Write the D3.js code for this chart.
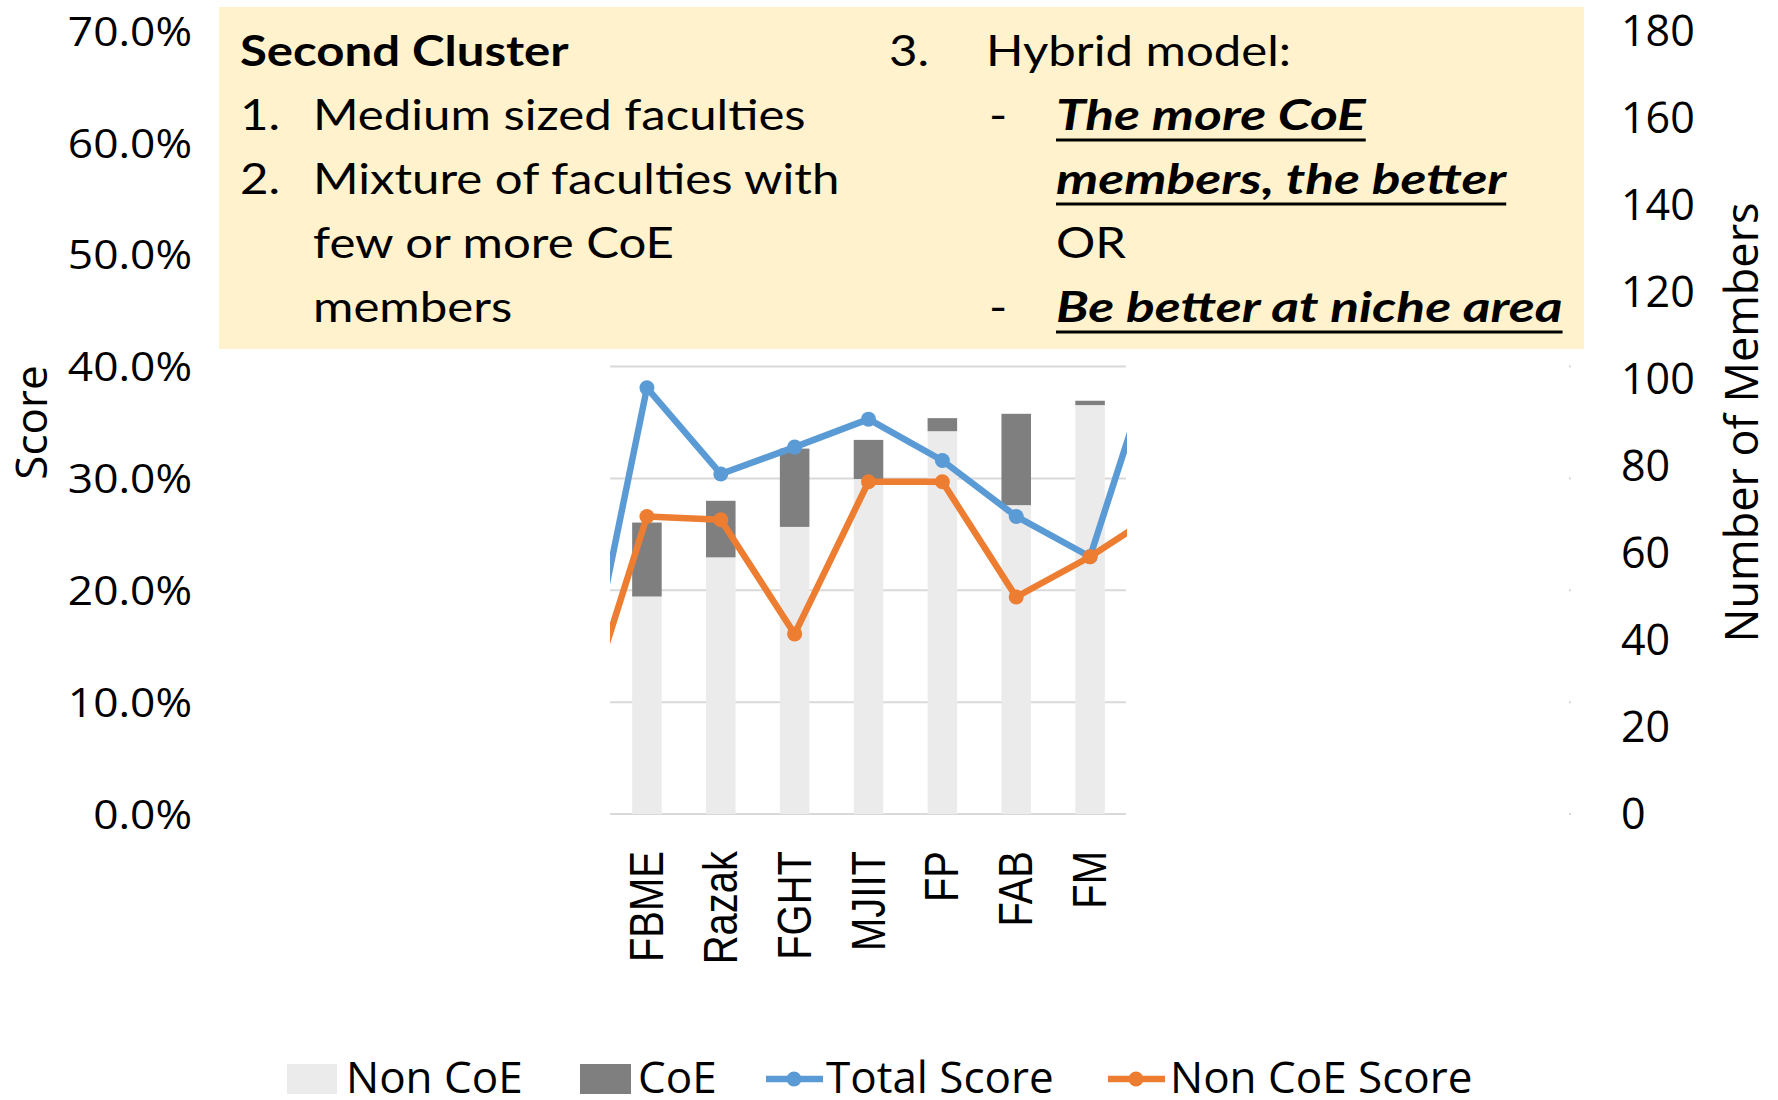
<!DOCTYPE html>
<html lang="en">
<head>
  <meta charset="utf-8">
  <script src="https://d3js.org/d3.v7.min.js"></script>
  <style>
    body { margin: 0; background: #fff; }
    svg { display: block; }
  </style>
</head>
<body>
<svg width="1778" height="1100"></svg>
<script>
  // faculties of the second cluster
  var categories = ["FBME", "Razak", "FGHT", "MJIIT", "FP", "FAB", "FM"];
  // members (right axis)
  var nonCoE = [50, 59, 66, 77, 88, 71, 94];
  var coE = [17, 13, 18, 9, 3, 21, 1];
  // scores (left axis)
  var totalScore = [0.381, 0.304, 0.328, 0.353, 0.316, 0.266, 0.230];
  var nonCoEScore = [0.266, 0.263, 0.161, 0.297, 0.297, 0.194, 0.230];
  // the faculties just outside this cut-out [before, after]; only their lines show
  var neighbourTotal = [0.058, 0.435];
  var neighbourNonCoE = [0.057, 0.273];
  var leftTicks = [0, 0.1, 0.2, 0.3, 0.4, 0.5, 0.6, 0.7];
  var rightTicks = [0, 20, 40, 60, 80, 100, 120, 140, 160, 180];

  var svg = d3.select("svg");
  var plotTop = 31, plotBottom = 814;
  var plotLeft = 205, plotRight = 1571;
  var winLeft = 610, winRight = 1127;

  var x = d3.scaleBand().domain(categories).range([winLeft, winRight])
    .paddingInner(0.6).paddingOuter(0.3);
  var yL = d3.scaleLinear().domain([0, 0.7]).range([plotBottom, plotTop]);
  var yR = d3.scaleLinear().domain([0, 180]).range([plotBottom, plotTop]);
  var step = x.step();
  function cx(i) { return x(categories[i]) + x.bandwidth() / 2; }

  // gridlines
  svg.append("g")
    .selectAll("line").data(leftTicks).enter().append("line")
    .attr("x1", plotLeft).attr("x2", plotRight)
    .attr("y1", function(d) { return yL(d); })
    .attr("y2", function(d) { return yL(d); })
    .attr("stroke", "#d9d9d9").attr("stroke-width", 2);

  // white panels hiding the rest of the original chart
  svg.append("rect").attr("x", plotLeft - 2).attr("y", plotTop - 5)
    .attr("width", winLeft - plotLeft + 2).attr("height", plotBottom - plotTop + 10).attr("fill", "#fff");
  svg.append("rect").attr("x", winRight - 1).attr("y", plotTop - 5)
    .attr("width", plotRight - 2 - winRight + 1).attr("height", plotBottom - plotTop + 10).attr("fill", "#fff");

  svg.append("clipPath").attr("id", "win")
    .append("rect").attr("x", winLeft).attr("y", 0)
    .attr("width", winRight - winLeft).attr("height", plotBottom + 2);

  var g = svg.append("g").attr("clip-path", "url(#win)");

  // stacked bars
  g.selectAll(".non").data(categories).enter().append("rect")
    .attr("x", function(d) { return x(d); })
    .attr("width", x.bandwidth())
    .attr("y", function(d, i) { return yR(nonCoE[i]); })
    .attr("height", function(d, i) { return yR(0) - yR(nonCoE[i]); })
    .attr("fill", "#ebebeb");
  g.selectAll(".coe").data(categories).enter().append("rect")
    .attr("x", function(d) { return x(d); })
    .attr("width", x.bandwidth())
    .attr("y", function(d, i) { return yR(nonCoE[i] + coE[i]); })
    .attr("height", function(d, i) { return yR(nonCoE[i]) - yR(nonCoE[i] + coE[i]); })
    .attr("fill", "#7f7f7f");

  function series(vals, nb) {
    var pts = [[cx(0) - step, nb[0]]];
    vals.forEach(function(v, i) { pts.push([cx(i), v]); });
    pts.push([cx(vals.length - 1) + step, nb[1]]);
    return pts;
  }
  var line = d3.line().x(function(d) { return d[0]; }).y(function(d) { return yL(d[1]); });

  [[totalScore, neighbourTotal, "#5b9bd5"], [nonCoEScore, neighbourNonCoE, "#ed7d31"]].forEach(function(s) {
    var pts = series(s[0], s[1]);
    g.append("path").datum(pts).attr("d", line)
      .attr("fill", "none").attr("stroke", s[2]).attr("stroke-width", 6.5)
      .attr("stroke-linejoin", "round");
    g.selectAll(null).data(pts).enter().append("circle")
      .attr("cx", function(d) { return d[0]; })
      .attr("cy", function(d) { return yL(d[1]); })
      .attr("r", 7.5).attr("fill", s[2]);
  });

  // axes labels
  var tickFont = "'Open Sans', 'Noto Sans', sans-serif";
  svg.append("g").selectAll("text").data(leftTicks).enter().append("text")
    .attr("transform", function(d) { return "translate(192," + yL(d) + ") scale(1.08,1)"; })
    .attr("dy", "0.36em").attr("text-anchor", "end")
    .attr("font-family", tickFont).attr("font-size", 41).attr("fill", "#000")
    .text(function(d) { return d3.format(".1%")(d); });

  svg.append("g").selectAll("text").data(rightTicks).enter().append("text")
    .attr("x", 1621).attr("y", function(d) { return yR(d); })
    .attr("dy", "0.36em")
    .attr("font-family", tickFont).attr("font-size", 43).attr("fill", "#000")
    .text(function(d) { return d; });

  svg.append("text")
    .attr("transform", "translate(47," + (plotTop + plotBottom) / 2 + ") rotate(-90)")
    .attr("text-anchor", "middle")
    .attr("font-family", tickFont).attr("font-size", 44)
    .text("Score");
  svg.append("text")
    .attr("transform", "translate(1758," + (plotTop + plotBottom) / 2 + ") rotate(-90)")
    .attr("text-anchor", "middle")
    .attr("font-family", tickFont).attr("font-size", 45)
    .text("Number of Members");

  // category labels
  svg.append("g").selectAll("text").data(categories).enter().append("text")
    .attr("transform", function(d, i) { return "translate(" + (cx(i) + 16) + ",851) scale(1.22,1) rotate(-90)"; })
    .attr("text-anchor", "end")
    .attr("font-family", "'Liberation Sans', Arial, sans-serif").attr("font-size", 40)
    .text(function(d) { return d; });

  // legend
  var lg = svg.append("g").attr("font-family", tickFont).attr("font-size", 44);
  lg.append("rect").attr("x", 287).attr("y", 1064).attr("width", 50).attr("height", 30).attr("fill", "#ebebeb");
  lg.append("text").attr("x", 346).attr("y", 1093).text("Non CoE");
  lg.append("rect").attr("x", 580).attr("y", 1064).attr("width", 51).attr("height", 30).attr("fill", "#7f7f7f");
  lg.append("text").attr("x", 638).attr("y", 1093).text("CoE");
  [[766, "#5b9bd5", 826, "Total Score"], [1108, "#ed7d31", 1170, "Non CoE Score"]].forEach(function(l) {
    lg.append("line").attr("x1", l[0]).attr("x2", l[0] + 57).attr("y1", 1079).attr("y2", 1079)
      .attr("stroke", l[1]).attr("stroke-width", 6.5);
    lg.append("circle").attr("cx", l[0] + 28).attr("cy", 1079).attr("r", 7.5).attr("fill", l[1]);
    lg.append("text").attr("x", l[2]).attr("y", 1093).text(l[3]);
  });

  // annotation box
  svg.append("rect").attr("x", 219).attr("y", 7).attr("width", 1365).attr("height", 342)
    .attr("fill", "#fff2cc");
  var boxFont = "Lato, 'Open Sans', sans-serif";
  var bx = svg.append("g").attr("font-family", boxFont).attr("font-size", 42).attr("fill", "#000");
  function put(xp, yp, t, bold, italic, under) {
    var sx = italic ? 1.27 : 1.17;
    var el = bx.append("text")
      .attr("transform", "translate(" + xp + "," + yp + ") scale(" + sx + ",1)")
      .text(t);
    if (bold) el.attr("font-weight", "bold");
    if (italic) el.attr("font-style", "italic");
    if (under) {
      var w = el.node().getComputedTextLength() * sx;
      bx.append("line").attr("x1", xp).attr("x2", xp + w)
        .attr("y1", yp + 10).attr("y2", yp + 10)
        .attr("stroke", "#000").attr("stroke-width", 3);
    }
  }
  put(240, 66, "Second Cluster", true);
  put(240, 130, "1.");
  put(313, 130, "Medium sized faculties");
  put(240, 194, "2.");
  put(313, 194, "Mixture of faculties with");
  put(313, 258, "few or more CoE");
  put(313, 322, "members");
  put(889, 66, "3.");
  put(986, 66, "Hybrid model:");
  put(989, 130, "-");
  put(1056, 130, "The more CoE", true, true, true);
  put(1056, 194, "members, the better", true, true, true);
  put(1056, 258, "OR");
  put(989, 322, "-");
  put(1056, 322, "Be better at niche area", true, true, true);
</script>
</body>
</html>
